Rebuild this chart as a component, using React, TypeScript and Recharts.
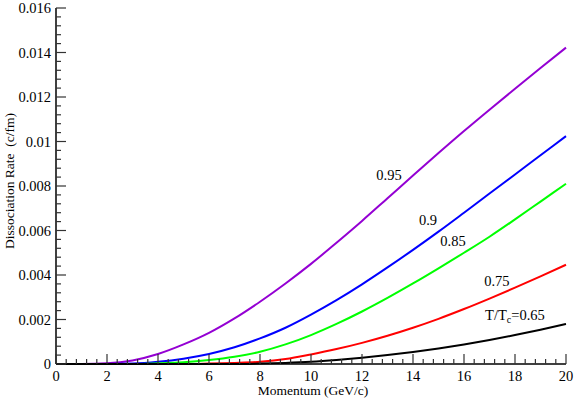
import React from "react";
import { LineChart, Line, XAxis, YAxis, ReferenceDot } from "recharts";

const momentum = [0, 1, 2, 3, 4, 5, 6, 7, 8, 9, 10, 11, 12, 13, 14, 15, 16, 17, 18, 19, 20];
const rate095 = [0, 0, 0.00003, 0.00016, 0.00045, 0.00088, 0.0014, 0.00205, 0.0028, 0.00362, 0.0045, 0.00545, 0.00643, 0.00745, 0.00847, 0.00948, 0.01047, 0.01143, 0.01237, 0.0133, 0.01422];
const rate090 = [0, 0, 0, 0.00002, 0.0001, 0.00024, 0.00045, 0.00075, 0.00115, 0.00163, 0.00222, 0.00287, 0.00358, 0.00434, 0.00513, 0.00595, 0.0068, 0.00766, 0.00852, 0.00938, 0.01024];
const rate085 = [0, 0, 0, 0, 0.00003, 0.00008, 0.00018, 0.00033, 0.00055, 0.00088, 0.0013, 0.0018, 0.00236, 0.00297, 0.00362, 0.0043, 0.005, 0.00572, 0.0065, 0.0073, 0.0081];
const rate075 = [0, 0, 0, 0, 0, 0, 0.00002, 0.00005, 0.0001, 0.00022, 0.00043, 0.00067, 0.00095, 0.00127, 0.00163, 0.00203, 0.00247, 0.00294, 0.00343, 0.00394, 0.00446];
const rate065 = [0, 0, 0, 0, 0, 0, 0, 0, 0.00002, 0.00005, 0.0001, 0.00018, 0.00028, 0.0004, 0.00054, 0.0007, 0.00088, 0.00108, 0.0013, 0.00154, 0.0018];

const xMajorTicks = [0, 2, 4, 6, 8, 10, 12, 14, 16, 18, 20];
const yMajorTicks = [0, 0.002, 0.004, 0.006, 0.008, 0.01, 0.012, 0.014, 0.016];
const minorPerMajor = 5;

const curveLabels = [
  { key: "r095", text: "0.95", x: 13.06, y: 0.0085 },
  { key: "r090", text: "0.9", x: 14.59, y: 0.00647 },
  { key: "r085", text: "0.85", x: 15.57, y: 0.00553 },
  { key: "r075", text: "0.75", x: 17.29, y: 0.00373 },
];
const tcLabel = { x: 18.0, y: 0.0022 };

const series = [
  { key: "r095", color: "#9400d3", values: rate095 },
  { key: "r090", color: "#0000ff", values: rate090 },
  { key: "r085", color: "#00ff00", values: rate085 },
  { key: "r075", color: "#ff0000", values: rate075 },
  { key: "r065", color: "#000000", values: rate065 },
];

const data = momentum.map((m, i) => {
  const row: any = { p: m };
  series.forEach((s) => (row[s.key] = s.values[i]));
  return row;
});

function withMinor(majors: number[]) {
  const out: number[] = [];
  for (let i = 0; i < majors.length - 1; i++) {
    const step = (majors[i + 1] - majors[i]) / minorPerMajor;
    for (let j = 0; j < minorPerMajor; j++) out.push(majors[i] + j * step);
  }
  out.push(majors[majors.length - 1]);
  return out;
}
const xTicks = withMinor(xMajorTicks);
const yTicks = withMinor(yMajorTicks);

const isMajor = (v: number, majors: number[]) => majors.some((m) => Math.abs(m - v) < 1e-9);
const fmtY = (v: number) => String(Number(v.toFixed(4)));

const FONT = "'Liberation Serif', 'Times New Roman', serif";
const MAJOR = 10;
const MINOR = 5;
const TICK_COLOR = "#333";

const BottomTick = (props: any) => {
  const { x, y, payload } = props;
  const major = isMajor(payload.value, xMajorTicks);
  return (
    <g>
      <line x1={x} x2={x} y1={y} y2={y - (major ? MAJOR : MINOR)} stroke={TICK_COLOR} strokeWidth={1.2} />
      {major && (
        <text x={x} y={y + 11.5} textAnchor="middle" dominantBaseline="central" fontFamily={FONT} fontSize={14.5} fill="#000">
          {String(payload.value)}
        </text>
      )}
    </g>
  );
};
const TopTick = (props: any) => {
  const { x, y, payload } = props;
  const major = isMajor(payload.value, xMajorTicks);
  return <line x1={x} x2={x} y1={y} y2={y + (major ? MAJOR : MINOR)} stroke={TICK_COLOR} strokeWidth={1.2} />;
};
const LeftTick = (props: any) => {
  const { x, y, payload } = props;
  const major = isMajor(payload.value, yMajorTicks);
  return (
    <g>
      <line x1={x} x2={x + (major ? MAJOR : MINOR)} y1={y} y2={y} stroke={TICK_COLOR} strokeWidth={1.2} />
      {major && (
        <text x={x - 5} y={y} textAnchor="end" dominantBaseline="central" fontFamily={FONT} fontSize={14.5} fill="#000">
          {fmtY(payload.value)}
        </text>
      )}
    </g>
  );
};
const RightTick = (props: any) => {
  const { x, y, payload } = props;
  const major = isMajor(payload.value, yMajorTicks);
  return <line x1={x} x2={x - (major ? MAJOR : MINOR)} y1={y} y2={y} stroke={TICK_COLOR} strokeWidth={1.2} />;
};

const XLabel = (props: any) => {
  const vb = props.viewBox || {};
  return (
    <text x={vb.x + vb.width / 2 + 2} y={vb.y + 26} textAnchor="middle" dominantBaseline="central" fontFamily={FONT} fontSize={13.5} fill="#000">
      Momentum (GeV/c)
    </text>
  );
};
const YLabel = (props: any) => {
  const vb = props.viewBox || {};
  const cx = 9;
  const cy = vb.y + vb.height / 2 - 5;
  return (
    <text x={cx} y={cy} transform={`rotate(-90, ${cx}, ${cy})`} textAnchor="middle" dominantBaseline="central" fontFamily={FONT} fontSize={13.5} fill="#000" style={{ whiteSpace: "pre" }}>
      {"Dissociation Rate  (c/fm)"}
    </text>
  );
};

export default function App() {
  return (
    <div style={{ position: "absolute", left: 0, top: 0, background: "#fff" }}>
      <LineChart width={575} height={398} data={data} margin={{ top: 8, right: 9, left: 0, bottom: 0 }}>
        <XAxis
          dataKey="p"
          type="number"
          domain={[0, 20]}
          ticks={xTicks}
          interval={0}
          tickSize={0}
          tickMargin={0}
          tickLine={false}
          height={34}
          axisLine={{ stroke: "#000", strokeWidth: 1.5 }}
          tick={<BottomTick />}
          label={<XLabel />}
        />
        <XAxis
          xAxisId="top"
          orientation="top"
          dataKey="p"
          type="number"
          domain={[0, 20]}
          ticks={xTicks}
          interval={0}
          tickSize={0}
          tickMargin={0}
          tickLine={false}
          height={0}
          axisLine={{ stroke: "#000", strokeWidth: 1.5 }}
          tick={<TopTick />}
        />
        <YAxis
          type="number"
          domain={[0, 0.016]}
          ticks={yTicks}
          interval={0}
          tickSize={0}
          tickMargin={0}
          tickLine={false}
          width={56}
          axisLine={{ stroke: "#000", strokeWidth: 1.5 }}
          tick={<LeftTick />}
          label={<YLabel />}
        />
        <YAxis
          yAxisId="right"
          orientation="right"
          type="number"
          domain={[0, 0.016]}
          ticks={yTicks}
          interval={0}
          tickSize={0}
          tickMargin={0}
          tickLine={false}
          width={0}
          axisLine={{ stroke: "#000", strokeWidth: 1.5 }}
          tick={<RightTick />}
        />
        {series.map((s) => (
          <Line key={s.key} dataKey={s.key} type="monotone" stroke={s.color} strokeWidth={2} dot={false} isAnimationActive={false} />
        ))}
        {curveLabels.map((l) => (
          <ReferenceDot
            key={l.key}
            x={l.x}
            y={l.y}
            r={0}
            ifOverflow="visible"
            shape={(p: any) => (
              <text x={p.cx} y={p.cy} textAnchor="middle" dominantBaseline="central" fontFamily={FONT} fontSize={14.5} fill="#000">
                {l.text}
              </text>
            )}
          />
        ))}
        <ReferenceDot
          x={tcLabel.x}
          y={tcLabel.y}
          r={0}
          ifOverflow="visible"
          shape={(p: any) => (
            <text x={p.cx} y={p.cy} textAnchor="middle" dominantBaseline="central" fontFamily={FONT} fontSize={14.5} fill="#000">
              T/T
              <tspan fontSize={10} dy={4}>c</tspan>
              <tspan dy={-4}>=0.65</tspan>
            </text>
          )}
        />
      </LineChart>
    </div>
  );
}
